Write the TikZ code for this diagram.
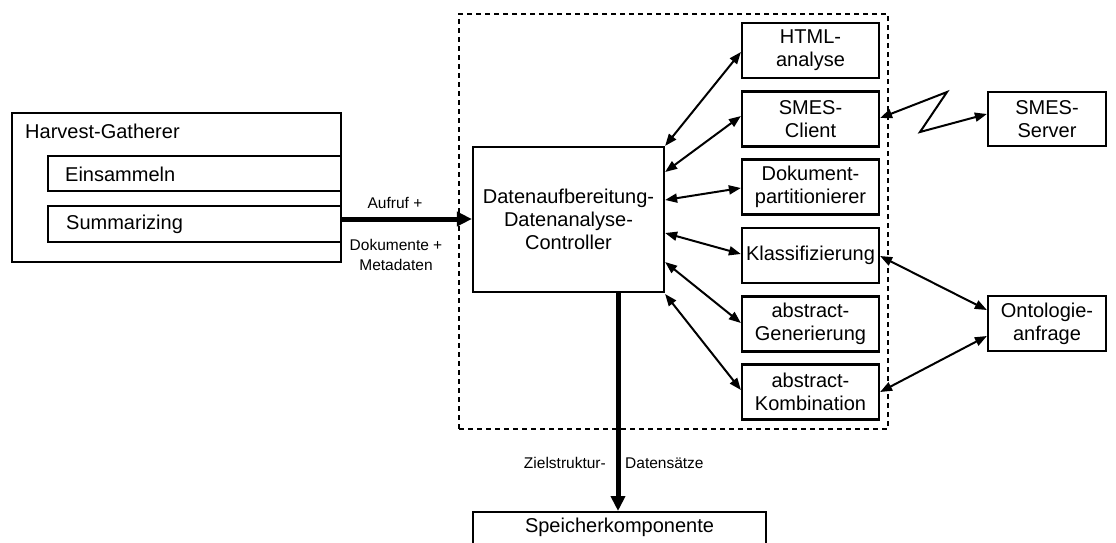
\documentclass[tikz,border=0pt]{standalone}
\usepackage{fontspec}
\setmainfont{Liberation Sans}
\usetikzlibrary{arrows.meta}
\begin{document}
\begin{tikzpicture}[x=1pt,y=-1pt,
  box/.style={draw,line width=2.2pt,inner sep=0pt,align=center,font=\fontsize{20}{23}\selectfont},
  lbl/.style={inner sep=0pt,font=\fontsize{15.5}{18}\selectfont},
  biarrow/.style={line width=2pt,{Triangle[length=12pt,width=9pt]}-{Triangle[length=12pt,width=9pt]}},
  thickarrow/.style={line width=5pt,-{Triangle[length=15pt,width=14pt]}}]
\useasboundingbox (0,0) rectangle (1116,542);
\clip (0,0) rectangle (1116,542);
\fill[white] (0,0) rectangle (1116,542);
% Harvest-Gatherer
\node[box,minimum width=329pt,minimum height=149pt] (hg) at (176.5,187.5) {};
\node[anchor=west,inner sep=0pt,font=\fontsize{20}{23}\selectfont] (hgt) at (25,131) {Harvest-Gatherer};
\node[box,minimum width=293pt,minimum height=35pt] (eins) at (194.5,173.5) {};
\node[anchor=west,inner sep=0pt,font=\fontsize{20}{23}\selectfont] (einst) at (65,174) {Einsammeln};
\node[box,minimum width=293pt,minimum height=36pt] (summ) at (194.5,224) {};
\node[anchor=west,inner sep=0pt,font=\fontsize{20}{23}\selectfont] (summt) at (66,224) {Summarizing};
% dashed region
\node[draw,line width=2pt,dash pattern=on 5pt off 4pt,minimum width=429pt,minimum height=415pt,inner sep=0pt] (region) at (673.5,221.5) {};
% controller
\node[box,minimum width=191pt,minimum height=145pt] (ctrl) at (568.5,219.5) {Datenaufbereitung-\\Datenanalyse-\\Controller};
% right modules
\node[box,minimum width=137pt,minimum height=55pt] (html) at (810.5,50.5) {HTML-\\analyse};
\node[box,minimum width=137pt,minimum height=55pt] (smesc) at (810.5,119) {SMES-\\Client};
\node[box,minimum width=137pt,minimum height=55pt] (dok) at (810.5,187) {Dokument-\\partitionierer};
\node[box,minimum width=137pt,minimum height=55pt] (klass) at (810.5,255.5) {Klassifizierung};
\node[box,minimum width=137pt,minimum height=55pt] (agen) at (810.5,324) {abstract-\\Generierung};
\node[box,minimum width=137pt,minimum height=55pt] (akomb) at (810.5,392) {abstract-\\Kombination};
% external
\node[box,minimum width=118pt,minimum height=54pt] (smess) at (1047,119) {SMES-\\Server};
\node[box,minimum width=118pt,minimum height=55pt] (onto) at (1047,323.5) {Ontologie-\\anfrage};
% Speicher
\node[box,minimum width=293pt,minimum height=60pt,anchor=north] (sp) at (619.5,511) {};
\node[inner sep=0pt,font=\fontsize{20}{23}\selectfont] (spt) at (619.5,527) {Speicherkomponente};
% thick arrows
\draw[thickarrow] (summ.east |- 0,219) -- (ctrl.west |- 0,219);
\node[lbl] (l1) at (395,203) {Aufruf +};
\node[lbl] (l2) at (396,245) {Dokumente +};
\node[lbl] (l3) at (396,265) {Metadaten};
\draw[thickarrow] (ctrl.south -| 618,0) -- (sp.north -| 618,0);
\node[lbl,anchor=east] (l4) at (606,463) {Zielstruktur-};
\node[lbl,anchor=west] (l5) at (625,463) {Datensätze};
% controller links
\draw[biarrow] (ctrl.north east) -- (html.west |- 0,52);
\draw[biarrow] (ctrl.east |- 0,172) -- (smesc.west |- 0,116);
\draw[biarrow] (ctrl.east |- 0,200) -- (dok.west |- 0,188);
\draw[biarrow] (ctrl.east |- 0,233) -- (klass.west |- 0,254);
\draw[biarrow] (ctrl.east |- 0,262) -- (agen.west |- 0,323);
\draw[biarrow] (ctrl.east |- 0,294) -- (akomb.west |- 0,390);
% ontology links
\draw[biarrow] (klass.east |- 0,256) -- (onto.west |- 0,310);
\draw[biarrow] (akomb.east |- 0,392) -- (onto.west |- 0,336);
% SMES zigzag
\coordinate (z1) at (947,92);
\coordinate (z2) at (920,132);
\draw[biarrow] (smesc.east |- 0,118) -- (z1) -- (z2) -- (smess.west |- 0,114);
\end{tikzpicture}
\end{document}
